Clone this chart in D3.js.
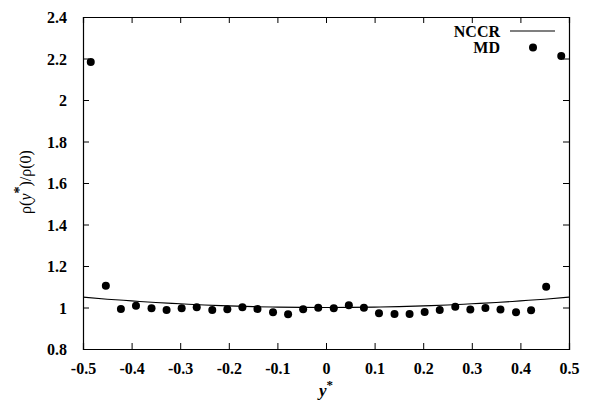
<!DOCTYPE html>
<html>
<head>
<meta charset="utf-8">
<script src="https://cdn.jsdelivr.net/npm/d3@7"></script>
<style>
  body { margin: 0; background: #fff; }
  text { font-family: "Liberation Serif", "Times New Roman", serif; }
</style>
</head>
<body>
<div id="chart"></div>
<script>
// MD bin centres and density ratio
var mdY = [-0.484, -0.453, -0.422, -0.391, -0.359, -0.328, -0.297, -0.266,
           -0.234, -0.203, -0.172, -0.141, -0.109, -0.078, -0.047, -0.016,
            0.016,  0.047,  0.078,  0.109,  0.141,  0.172,  0.203,  0.234,
            0.266,  0.297,  0.328,  0.359,  0.391,  0.422,  0.453,  0.484];
var mdRho = [2.183, 1.105, 0.993, 1.009, 0.996, 0.988, 0.996, 1.001,
             0.988, 0.991, 1.001, 0.993, 0.977, 0.967, 0.991, 0.999,
             0.996, 1.011, 0.999, 0.972, 0.969, 0.969, 0.978, 0.988,
             1.004, 0.990, 0.998, 0.990, 0.977, 0.987, 1.100, 2.212];

// NCCR curve
var nccrY = [-0.5, -0.45, -0.4, -0.35, -0.3, -0.25, -0.2, -0.15, -0.1, -0.05, 0,
              0.05, 0.1, 0.15, 0.2, 0.25, 0.3, 0.35, 0.4, 0.45, 0.5];
var nccrRho = [1.050, 1.040, 1.032, 1.024, 1.018, 1.012, 1.008, 1.004, 1.002, 1.0005, 1.000,
               1.0005, 1.002, 1.004, 1.008, 1.012, 1.018, 1.024, 1.032, 1.040, 1.050];

var xTicks = [-0.5, -0.4, -0.3, -0.2, -0.1, 0, 0.1, 0.2, 0.3, 0.4, 0.5];
var yTicks = [0.8, 1, 1.2, 1.4, 1.6, 1.8, 2, 2.2, 2.4];

var svgWidth = 590, svgHeight = 403;
var margin = {left: 83, right: 21, top: 17, bottom: 54};
var width = svgWidth - margin.left - margin.right,
    height = svgHeight - margin.top - margin.bottom;

var svg = d3.select("#chart").append("svg")
    .attr("width", svgWidth)
    .attr("height", svgHeight);

var g = svg.append("g")
    .attr("transform", `translate(${margin.left}, ${margin.top})`);

var x = d3.scaleLinear().domain([-0.5, 0.5]).range([0, width]);
var y = d3.scaleLinear().domain([0.8, 2.4]).range([height, 0]);

// plain hyphen minus like the original
var fmt = d => String(+d.toFixed(1));

// axes with inward ticks, on all four sides
var axBottom = g.append("g").attr("transform", `translate(0, ${height})`)
    .call(d3.axisBottom(x).tickValues(xTicks).tickSize(-6).tickPadding(14).tickFormat(fmt));
var axTop = g.append("g")
    .call(d3.axisTop(x).tickValues(xTicks).tickSize(-6).tickFormat(""));
var axLeft = g.append("g")
    .call(d3.axisLeft(y).tickValues(yTicks).tickSize(-6).tickPadding(16).tickFormat(fmt));
var axRight = g.append("g").attr("transform", `translate(${width}, 0)`)
    .call(d3.axisRight(y).tickValues(yTicks).tickSize(-6).tickFormat(""));

[axBottom, axTop, axLeft, axRight].forEach(a => {
    a.select(".domain").attr("stroke", "#000").attr("stroke-width", 1.2);
    a.selectAll(".tick line").attr("stroke", "#000");
    a.selectAll("text")
        .attr("font-size", "16px")
        .attr("font-weight", "bold")
        .attr("fill", "#000")
        .style("font-family", "'Liberation Serif', serif");
});
axLeft.selectAll(".tick text").attr("dy", "0.36em");

// NCCR line
var line = d3.line()
    .x((d, i) => x(nccrY[i]))
    .y(d => y(d))
    .curve(d3.curveMonotoneX);

g.append("path")
    .datum(nccrRho)
    .attr("d", line)
    .attr("fill", "none")
    .attr("stroke", "#000")
    .attr("stroke-width", 1.1);

// MD points
g.selectAll("circle.md")
    .data(mdRho)
    .enter().append("circle")
    .attr("class", "md")
    .attr("cx", (d, i) => x(mdY[i]))
    .attr("cy", d => y(d))
    .attr("r", 4)
    .attr("fill", "#000");

// legend
var leg = g.append("g");
leg.append("text")
    .attr("x", 500 - margin.left).attr("y", 37 - margin.top)
    .attr("text-anchor", "end")
    .attr("font-size", "16px").attr("font-weight", "bold")
    .text("NCCR");
leg.append("line")
    .attr("x1", 510 - margin.left).attr("x2", 555 - margin.left)
    .attr("y1", 31 - margin.top).attr("y2", 31 - margin.top)
    .attr("stroke", "#000").attr("stroke-width", 1.1);
leg.append("text")
    .attr("x", 500 - margin.left).attr("y", 53 - margin.top)
    .attr("text-anchor", "end")
    .attr("font-size", "16px").attr("font-weight", "bold")
    .text("MD");
leg.append("circle")
    .attr("cx", 533 - margin.left).attr("cy", 47.5 - margin.top)
    .attr("r", 4).attr("fill", "#000");

// x label
var xl = svg.append("text")
    .attr("x", margin.left + width / 2).attr("y", 396)
    .attr("text-anchor", "middle")
    .attr("font-size", "17px").attr("font-weight", "bold").attr("font-style", "italic");
xl.append("tspan").text("y");
xl.append("tspan").attr("dy", "-7").attr("font-size", "13px").attr("font-style", "normal").text("*");

// y label
var yl = svg.append("text")
    .attr("transform", `translate(31, ${margin.top + 165}) rotate(-90)`)
    .attr("text-anchor", "middle")
    .attr("font-size", "16px");
yl.append("tspan").text("\u03c1(");
yl.append("tspan").attr("font-style", "italic").text("y");
yl.append("tspan").attr("dy", "-7").attr("font-size", "14px").attr("font-weight", "bold").text("*");
yl.append("tspan").attr("dy", "7").text(")/\u03c1(0)");
</script>
</body>
</html>
